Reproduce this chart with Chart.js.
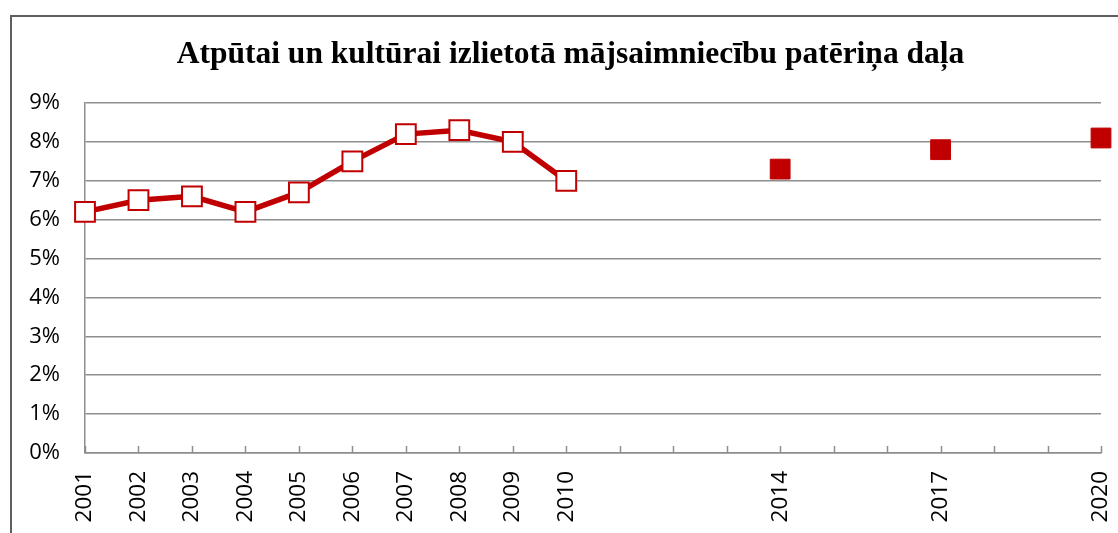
<!DOCTYPE html>
<html>
<head>
<meta charset="utf-8">
<script src="https://cdn.jsdelivr.net/npm/chart.js@4"></script>
<style>
  html, body { margin: 0; padding: 0; background: #fff; }
  canvas { display: block; }
</style>
</head>
<body>
<canvas id="chart" width="1118" height="533"></canvas>
<script>
const years = ['2001','2002','2003','2004','2005','2006','2007','2008','2009','2010',
  '2011','2012','2013','2014','2015','2016','2017','2018','2019','2020'];
const shownYears = ['2001','2002','2003','2004','2005','2006','2007','2008','2009','2010','2014','2017','2020'];
// share of spending, %
const actualShare = [6.2, 6.5, 6.6, 6.2, 6.7, 7.5, 8.2, 8.3, 8.0, 7.0,
  null, null, null, null, null, null, null, null, null, null];
const laterShare = [null, null, null, null, null, null, null, null, null, null,
  null, null, null, 7.3, null, null, 7.8, null, null, 8.1];
const yTicks = [0, 1, 2, 3, 4, 5, 6, 7, 8, 9];
const titleText = 'Atpūtai un kultūrai izlietotā mājsaimniecību patēriņa daļa';

const red = '#C00000';
const gridGray = '#8e8e8e';

// outer frame, title, and the little inward ticks on the x axis
const extras = {
  id: 'extras',
  beforeDraw(chart) {
    const ctx = chart.ctx;
    ctx.save();
    ctx.strokeStyle = '#5f5f5f';
    ctx.lineWidth = 2;
    ctx.beginPath();
    ctx.moveTo(11, 540);
    ctx.lineTo(11, 16);
    ctx.lineTo(1130, 16);
    ctx.stroke();
    ctx.fillStyle = '#000';
    ctx.font = 'bold 31.5px "Liberation Serif"';
    ctx.textAlign = 'center';
    ctx.textBaseline = 'alphabetic';
    ctx.fillText(titleText, 570.5, 63);
    ctx.restore();
  },
  beforeDatasetsDraw(chart) {
    const ctx = chart.ctx;
    const xs = chart.scales.x;
    const bottom = chart.chartArea.bottom;
    ctx.save();
    ctx.strokeStyle = gridGray;
    ctx.lineWidth = 1.5;
    ctx.beginPath();
    years.forEach((y, i) => {
      const px = Math.round(xs.getPixelForTick(i)) + 0.5;
      ctx.moveTo(px, bottom);
      ctx.lineTo(px, bottom - 7);
    });
    ctx.stroke();
    ctx.restore();
  }
};

new Chart(document.getElementById('chart'), {
  type: 'line',
  data: {
    labels: years,
    datasets: [
      {
        label: 'actual',
        data: actualShare,
        borderColor: red,
        borderWidth: 5.5,
        tension: 0,
        pointStyle: 'rect',
        pointRadius: 14,
        pointBackgroundColor: '#fff',
        pointBorderColor: red,
        pointBorderWidth: 2,
        clip: false
      },
      {
        label: 'later',
        data: laterShare,
        showLine: false,
        pointStyle: 'rect',
        pointRadius: 14,
        pointBackgroundColor: red,
        pointBorderColor: red,
        pointBorderWidth: 1,
        clip: false
      }
    ]
  },
  options: {
    responsive: false,
    animation: false,
    layout: { padding: { left: 0, right: 17, top: 103, bottom: 0 } },
    plugins: {
      legend: { display: false },
      tooltip: { enabled: false },
      title: { display: false }
    },
    scales: {
      x: {
        type: 'category',
        offset: false,
        grid: { display: false, drawTicks: false },
        border: { display: true, color: gridGray, width: 1.5 },
        ticks: {
          autoSkip: false,
          minRotation: 90,
          maxRotation: 90,
          padding: 18,
          color: '#000',
          font: { family: 'Open Sans', size: 22.5 },
          callback: (v, i) => shownYears.includes(years[i]) ? years[i] : ''
        },
        afterFit: s => { s.height = 80; s.paddingLeft = 0; s.paddingRight = 0; }
      },
      y: {
        min: 0,
        max: 9,
        afterBuildTicks: s => { s.ticks = yTicks.map(v => ({ value: v })); },
        grid: { color: gridGray, lineWidth: 1.5, drawTicks: false },
        border: { display: true, color: gridGray, width: 1.5 },
        ticks: {
          padding: 25,
          color: '#000',
          font: { family: 'Open Sans', size: 22 },
          callback: v => v + '%'
        },
        afterFit: s => { s.width = 85; s.paddingTop = 0; s.paddingBottom = 0; }
      }
    }
  },
  plugins: [extras]
});
</script>
</body>
</html>
